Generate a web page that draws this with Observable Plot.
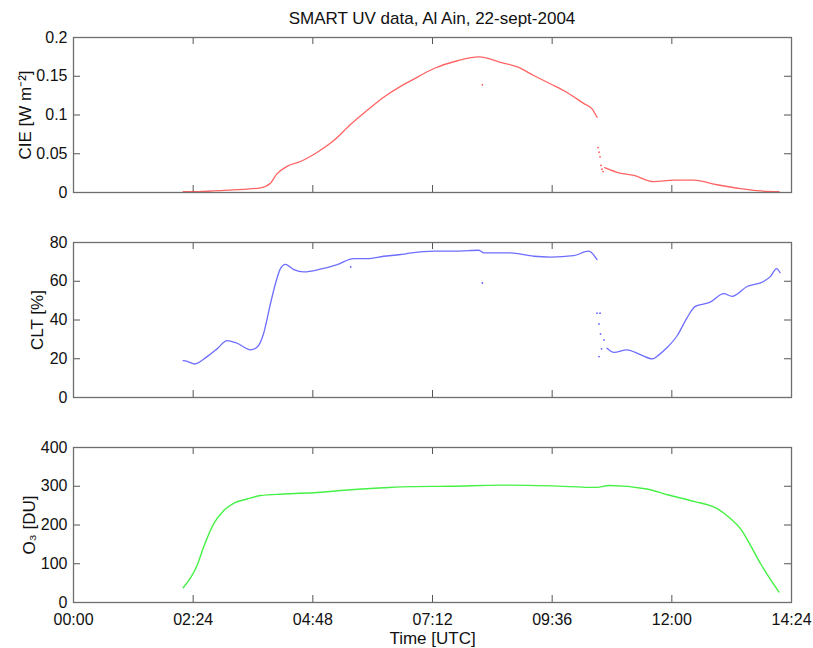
<!DOCTYPE html>
<html><head><meta charset="utf-8">
<script src="https://cdn.jsdelivr.net/npm/d3@7"></script>
<script src="https://cdn.jsdelivr.net/npm/@observablehq/plot@0.6"></script>
<style>
body{margin:0;background:#fff;font-family:"Liberation Sans",Arial,sans-serif;}
#wrap{position:relative;width:813px;height:648px;}
#title{position:absolute;top:10px;left:73px;width:718px;text-align:center;font-size:17px;line-height:18px;color:#111;}
#charts svg{display:block;}
</style></head><body>
<div id="wrap"><div id="title">SMART UV data, Al Ain, 22-sept-2004</div><div id="charts"></div></div>
<script>
// x axis (hours UTC)
const xTickHours = [0, 2.4, 4.8, 7.2, 9.6, 12, 14.4];
const xTickLabels = ["00:00", "02:24", "04:48", "07:12", "09:36", "12:00", "14:24"];

// CIE (W m^-2)
const cieTicks = [0, 0.05, 0.1, 0.15, 0.2];
const cieTickLabels = ["0", "0.05", "0.1", "0.15", "0.2"];
const cieHoursA = [2.20, 2.50, 2.80, 3.10, 3.40, 3.75, 3.95, 4.08, 4.29, 4.55, 4.89, 5.22, 5.56, 5.89, 6.22, 6.56, 6.76, 7.23, 7.70, 8.13, 8.56, 8.90, 9.23, 9.57, 9.90, 10.23, 10.40, 10.50];
const cieValuesA = [0.001, 0.001, 0.002, 0.003, 0.004, 0.006, 0.012, 0.024, 0.034, 0.040, 0.052, 0.067, 0.088, 0.106, 0.123, 0.137, 0.144, 0.160, 0.170, 0.175, 0.168, 0.162, 0.151, 0.140, 0.129, 0.115, 0.108, 0.097];
const cieHoursB = [10.65, 10.90, 11.24, 11.64, 12.04, 12.44, 12.91, 13.38, 13.78, 14.15];
const cieValuesB = [0.032, 0.026, 0.022, 0.014, 0.016, 0.016, 0.010, 0.005, 0.002, 0.001];
const cieScatterHours = [10.52, 10.54, 10.56, 10.58, 10.60, 10.62, 8.20];
const cieScatterValues = [0.058, 0.052, 0.046, 0.035, 0.030, 0.027, 0.139];

// CLT (%)
const cltTicks = [0, 20, 40, 60, 80];
const cltHoursA = [2.20, 2.28, 2.43, 2.68, 2.88, 3.08, 3.28, 3.55, 3.68, 3.81, 3.95, 4.05, 4.15, 4.25, 4.42, 4.62, 4.95, 5.29, 5.62, 5.89, 6.22, 6.56, 6.69, 7.23, 7.70, 8.13, 8.23, 8.76, 9.23, 9.57, 10.03, 10.33, 10.50];
const cltValuesA = [19.0, 18.7, 17.3, 21.1, 25.1, 29.4, 28.0, 24.6, 25.9, 32.8, 48.4, 58.7, 66.5, 68.7, 66.0, 64.8, 66.2, 68.6, 71.7, 71.7, 72.9, 73.8, 74.3, 75.6, 75.6, 76.0, 74.6, 74.6, 72.9, 72.5, 73.2, 75.5, 71.2];
const cltHoursB = [10.70, 10.84, 11.10, 11.37, 11.61, 11.74, 11.91, 12.11, 12.31, 12.47, 12.77, 13.04, 13.21, 13.51, 13.84, 13.98, 14.10, 14.17];
const cltValuesB = [25.4, 23.3, 24.6, 22.1, 19.9, 22.0, 25.9, 32.0, 41.4, 47.0, 49.2, 53.6, 52.2, 57.3, 59.9, 62.5, 66.5, 64.4];
const cltScatterHours = [10.50, 10.56, 10.54, 10.57, 10.64, 10.59, 10.54, 8.20, 5.56];
const cltScatterValues = [43.5, 43.5, 38.0, 32.8, 29.7, 25.1, 21.1, 59.1, 67.4];

// O3 (DU)
const o3Ticks = [0, 100, 200, 300, 400];
const o3Hours = [2.20, 2.48, 2.61, 2.81, 3.01, 3.21, 3.48, 3.75, 4.22, 4.89, 5.56, 6.22, 6.76, 7.56, 8.56, 9.57, 10.50, 10.74, 11.50, 11.91, 12.44, 12.91, 13.18, 13.38, 13.58, 13.78, 13.98, 14.15];
const o3Values = [38, 96, 143, 203, 237, 256, 267, 276, 280, 284, 291, 296, 299, 300, 303, 301, 297, 302, 293, 278, 261, 242, 216, 190, 147, 100, 59, 27];

const FONT = "'Liberation Sans', Arial, sans-serif";
const W = 813, ML = 73, MR = 22, INNER_H = 155, INNER_W = W - ML - MR, TL = 7;

function seg(hours, values, id) { return hours.map((h, i) => ({h, v: values[i], s: id})); }

function panel({height, marginTop, marginBottom, yDomain, yTicks, yTickLabels, yLabel, labelDx, color, data, scatter, showX}) {
  const marks = [
    Plot.axisY({ticks: yTicks, tickFormat: d => yTickLabels[yTicks.indexOf(d)], tickSize: 0, tickPadding: 6, label: null, fontSize: 16}),
    Plot.text([yLabel], {frameAnchor: "left", text: d => d, rotate: -90, dx: labelDx, lineAnchor: "middle", textAnchor: "middle", fontSize: 17, fill: "#111"}),
    Plot.tickX(xTickHours.slice(1, -1), {x: d => d, insetTop: INNER_H - TL, stroke: "#555"}),
    Plot.tickX(xTickHours.slice(1, -1), {x: d => d, insetBottom: INNER_H - TL, stroke: "#555"}),
    Plot.tickY(yTicks.slice(1, -1), {y: d => d, insetRight: INNER_W - TL, stroke: "#555"}),
    Plot.tickY(yTicks.slice(1, -1), {y: d => d, insetLeft: INNER_W - TL, stroke: "#555"}),
    Plot.line(data, {x: "h", y: "v", z: "s", curve: "monotone-x", stroke: color.stroke, strokeWidth: color.width, strokeOpacity: color.opacity}),
  ];
  if (scatter) marks.push(Plot.dot(scatter, {x: "h", y: "v", r: 0.9, fill: color.stroke, fillOpacity: 0.8, stroke: null}));
  if (showX) {
    marks.push(Plot.axisX({ticks: xTickHours, tickFormat: d => xTickLabels[xTickHours.indexOf(d)], tickSize: 0, tickPadding: 11, label: null, fontSize: 16}));
    marks.push(Plot.text(["Time [UTC]"], {frameAnchor: "bottom", text: d => d, dy: 36, lineAnchor: "middle", fontSize: 17, fill: "#111"}));
  }
  marks.push(Plot.frame({stroke: "#6e6e6e", strokeWidth: 1.3}));
  return Plot.plot({
    width: W, height, marginLeft: ML, marginRight: MR, marginTop, marginBottom,
    style: {fontFamily: FONT, fontSize: "16px", color: "#111", background: "#fff", overflow: "visible"},
    x: {domain: [0, 14.4], axis: showX ? undefined : null},
    y: {domain: yDomain},
    marks
  });
}

const charts = document.getElementById("charts");
charts.append(panel({
  height: 215, marginTop: 37, marginBottom: 23,
  yDomain: [0, 0.2], yTicks: cieTicks, yTickLabels: cieTickLabels,
  yLabel: "CIE [W m⁻²]", labelDx: -48,
  color: {stroke: "#ff3030", width: 1.3, opacity: 0.75},
  data: seg(cieHoursA, cieValuesA, "a").concat(seg(cieHoursB, cieValuesB, "b")),
  scatter: seg(cieScatterHours, cieScatterValues, "x"),
  showX: false
}));
charts.append(panel({
  height: 205, marginTop: 27, marginBottom: 23,
  yDomain: [0, 80], yTicks: cltTicks, yTickLabels: cltTicks.map(String),
  yLabel: "CLT [%]", labelDx: -36,
  color: {stroke: "#3c3cff", width: 1.3, opacity: 0.75},
  data: seg(cltHoursA, cltValuesA, "a").concat(seg(cltHoursB, cltValuesB, "b")),
  scatter: seg(cltScatterHours, cltScatterValues, "x"),
  showX: false
}));
charts.append(panel({
  height: 228, marginTop: 27, marginBottom: 46,
  yDomain: [0, 400], yTicks: o3Ticks, yTickLabels: o3Ticks.map(String),
  yLabel: "O₃ [DU]", labelDx: -44,
  color: {stroke: "#30f030", width: 1.4, opacity: 0.9},
  data: seg(o3Hours, o3Values, "a"),
  scatter: null,
  showX: true
}));
</script>
</body></html>
